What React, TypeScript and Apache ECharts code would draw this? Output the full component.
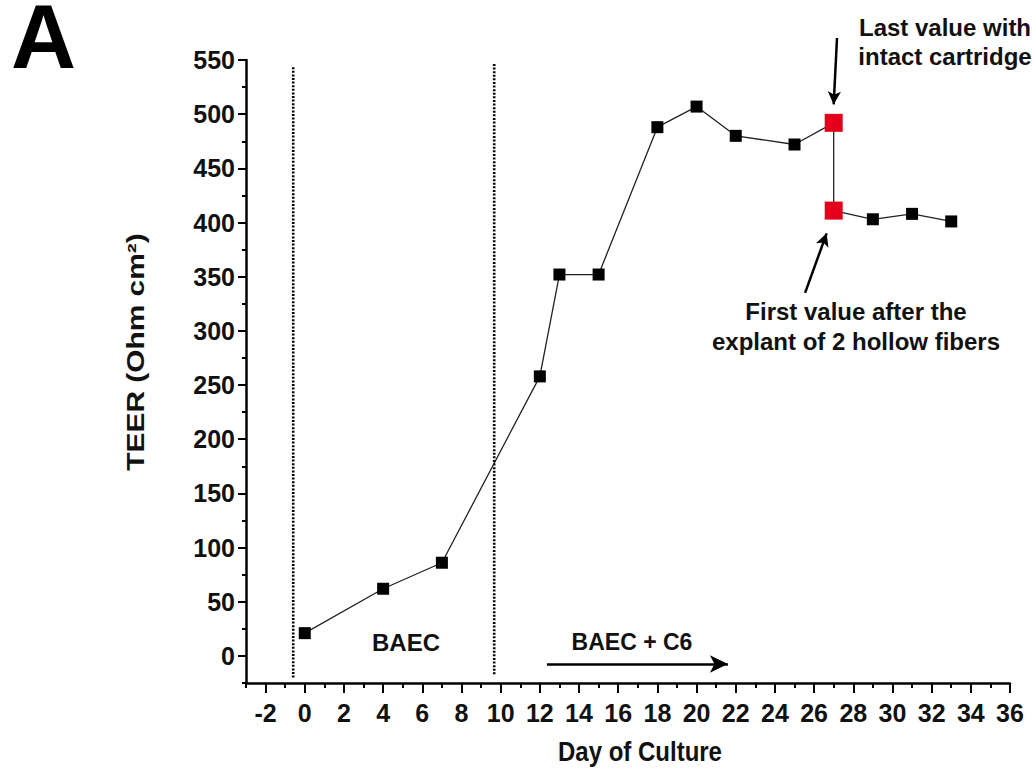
import React, { useEffect, useRef } from "react";
import * as echarts from "echarts";

const days = [0, 4, 7, 12, 13, 15, 18, 20, 22, 25, 27, 27, 29, 31, 33];
const teer = [21, 62, 86, 258, 352, 352, 488, 507, 480, 472, 492, 411, 403, 408, 401];
const highlighted = [false, false, false, false, false, false, false, false, false, false, true, true, false, false, false];
const phaseBounds = [-0.59, 9.67];
const phaseBoundTop = [544, 547];
const phaseBoundBottom = [-20, -17];
const xTickLabels = [-2, 0, 2, 4, 6, 8, 10, 12, 14, 16, 18, 20, 22, 24, 26, 28, 30, 32, 34, 36];
const yTickLabels = [0, 50, 100, 150, 200, 250, 300, 350, 400, 450, 500, 550];

const FONT = "'Liberation Sans', Arial, sans-serif";

export default function App() {
  const ref = useRef<HTMLDivElement>(null);
  useEffect(() => {
    if (!ref.current) return;
    const chart = echarts.init(ref.current, null, { renderer: "svg" });
    const pts = days.map((d, i) => ({
      value: [d, teer[i]],
      symbolSize: highlighted[i] ? 18 : 12,
      itemStyle: { color: highlighted[i] ? "#e3001b" : "#000" },
    }));
    const textStyle = { fontFamily: FONT, fontWeight: "bold", fill: "#111" };
    const axisLabelStyle = {
      color: "#111",
      fontFamily: FONT,
      fontWeight: "bold",
      fontSize: 25,
    };
    const arrowEnd = (coord: number[], size: number[]) => ({ coord, symbol: "arrow", symbolSize: size });
    chart.setOption({
      animation: false,
      backgroundColor: "#fff",
      grid: { left: 246, right: 24, top: 60, bottom: 89 },
      xAxis: [
        {
          type: "value",
          min: -3,
          max: 36,
          interval: 1,
          splitLine: { show: false },
          axisLine: { onZero: false, lineStyle: { color: "#000", width: 2.5 } },
          axisTick: { customValues: xTickLabels, length: 10, lineStyle: { color: "#000", width: 2 } },
          axisLabel: { ...axisLabelStyle, customValues: xTickLabels, margin: 17 },
        },
        {
          type: "value",
          min: -3,
          max: 36,
          interval: 1,
          position: "bottom",
          splitLine: { show: false },
          axisLine: { show: false, onZero: false },
          axisTick: { length: 5, lineStyle: { color: "#000", width: 2 } },
          axisLabel: { show: false },
        },
      ],
      yAxis: [
        {
          type: "value",
          min: -25,
          max: 550,
          interval: 25,
          splitLine: { show: false },
          axisLine: { onZero: false, lineStyle: { color: "#000", width: 2.5 } },
          axisTick: { customValues: yTickLabels, length: 8, lineStyle: { color: "#000", width: 2 } },
          axisLabel: { ...axisLabelStyle, customValues: yTickLabels, margin: 11 },
        },
        {
          type: "value",
          min: -25,
          max: 550,
          interval: 25,
          position: "left",
          splitLine: { show: false },
          axisLine: { show: false, onZero: false },
          axisTick: { length: 4, lineStyle: { color: "#000", width: 2 } },
          axisLabel: { show: false },
        },
      ],
      series: [
        ...phaseBounds.map((x, i) => ({
          type: "line",
          data: [
            [x, phaseBoundBottom[i]],
            [x, phaseBoundTop[i]],
          ],
          symbol: "none",
          silent: true,
          lineStyle: { color: "#000", width: 2.6, type: [2, 1.6] },
        })),
        {
          type: "line",
          data: pts,
          symbol: "rect",
          lineStyle: { color: "#222", width: 1.3 },
          silent: true,
          markLine: {
            silent: true,
            symbol: ["none", "arrow"],
            label: { show: false },
            lineStyle: { color: "#000", width: 2.5, type: "solid" },
            data: [
              [{ x: 837, y: 38, symbol: "none" }, arrowEnd([27, 509], [10, 13])],
              [{ coord: [25.54, 335], symbol: "none" }, arrowEnd([26.64, 390], [10, 13])],
              [{ coord: [12.36, -7.5], symbol: "none" }, arrowEnd([21.6, -7.5], [13, 18])],
            ],
          },
        },
      ],
      graphic: [
        { type: "text", left: 11, top: -8, style: { ...textStyle, text: "A", fontSize: 90, fill: "#000" } },
        {
          type: "text",
          x: 136,
          y: 352,
          rotation: Math.PI / 2,
          scaleX: 1.3,
          style: { ...textStyle, text: "TEER (Ohm cm²)", fontSize: 23, align: "center", verticalAlign: "middle" },
        },
        {
          type: "text",
          x: 640,
          y: 752,
          scaleY: 1.12,
          style: { ...textStyle, text: "Day of Culture", fontSize: 24, align: "center", verticalAlign: "middle" },
        },
        {
          type: "text",
          x: 945,
          y: 42,
          style: {
            ...textStyle,
            text: "Last value with\nintact cartridge",
            fontSize: 24,
            lineHeight: 29,
            align: "center",
            verticalAlign: "middle",
          },
        },
        {
          type: "text",
          x: 856,
          y: 326,
          style: {
            ...textStyle,
            text: "First value after the\nexplant of 2 hollow fibers",
            fontSize: 24,
            lineHeight: 30,
            align: "center",
            verticalAlign: "middle",
          },
        },
        {
          type: "text",
          x: 406,
          y: 642,
          style: { ...textStyle, text: "BAEC", fontSize: 24, align: "center", verticalAlign: "middle" },
        },
        {
          type: "text",
          x: 632,
          y: 642,
          style: { ...textStyle, text: "BAEC + C6", fontSize: 23, align: "center", verticalAlign: "middle" },
        },
      ],
    });
    return () => chart.dispose();
  }, []);
  return (
    <div
      ref={ref}
      style={{ position: "fixed", left: 0, top: 0, width: 1034, height: 772, background: "#fff" }}
    />
  );
}
